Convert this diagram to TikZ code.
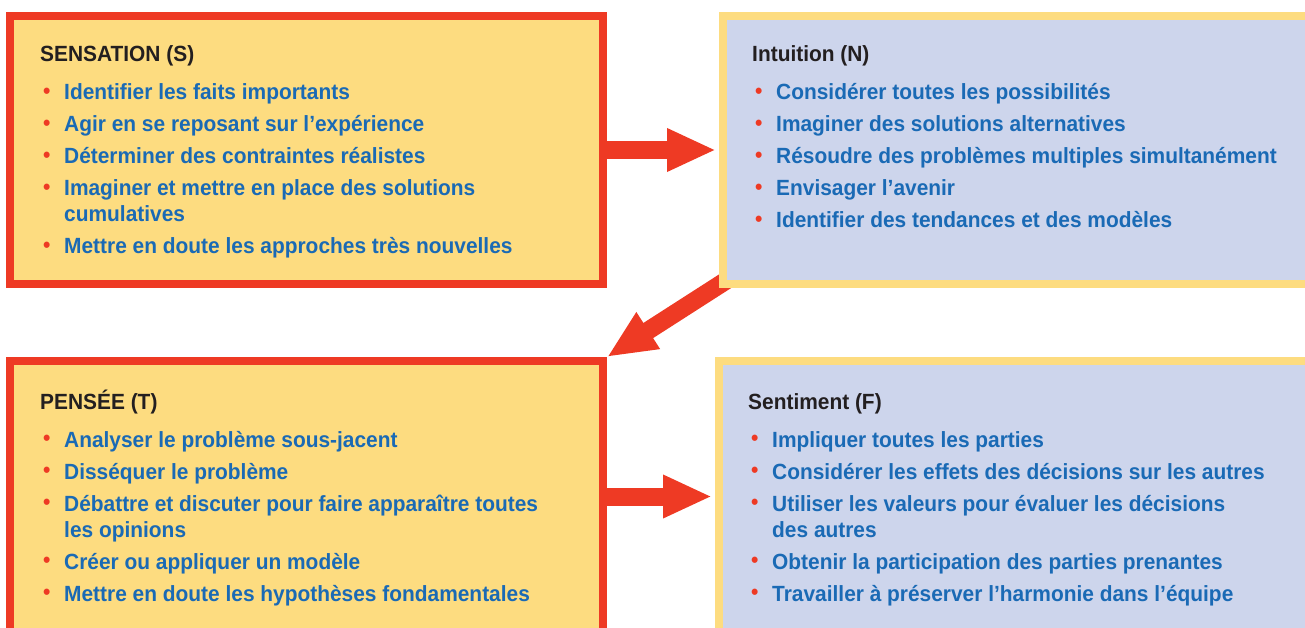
\documentclass[tikz,border=0pt]{standalone}
\usepackage{fontspec}
\setmainfont{Liberation Sans}[FakeStretch=0.95]
\usetikzlibrary{arrows.meta,backgrounds,calc}
\definecolor{rouge}{RGB}{238,58,36}
\definecolor{jaune}{RGB}{253,220,128}
\definecolor{lavande}{RGB}{205,213,236}
\definecolor{bleu}{RGB}{26,106,181}
\definecolor{noir}{RGB}{35,31,32}
\newcommand{\puce}{\makebox[24pt][l]{\hspace{3pt}\textcolor{rouge}{\raisebox{1.5pt}{\textbullet}}}}
\newcommand{\titre}[1]{\multicolumn{2}{@{}l@{}}{\textcolor{noir}{#1}}}
\begin{document}
\begin{tikzpicture}[x=1pt, y=-1pt,
   cadre/.style={rectangle, line width=8pt, minimum width=593pt, anchor=north west, inner sep=0pt},
   chaud/.style={cadre, draw=rouge, fill=jaune},
   froid/.style={cadre, draw=jaune, fill=lavande},
   liste/.style={anchor=base west, inner sep=0pt, text=bleu, font=\fontsize{22}{26}\selectfont\bfseries},
   fleche/.style={draw=rouge, line width=18pt, -{Triangle[length=49pt,width=40pt]}}]
   \useasboundingbox (0,0) rectangle (1305,628);
   \node (S) [chaud, minimum height=268pt] at (6,12) {};
   \node (N) [froid, minimum height=268pt] at (719,12) {};
   \node (T) [chaud, minimum height=271pt] at (6,357) {};
   \node (F) [froid, minimum height=271pt] at (715,357) {};
   \node (Sliste) [liste] at (40,62) {\begin{tabular}[t]{@{}l@{}l@{}}
     \titre{SENSATION (S)}\\[12pt]
     \puce & Identifier les faits importants\\[6pt]
     \puce & Agir en se reposant sur l’expérience\\[6pt]
     \puce & Déterminer des contraintes réalistes\\[6pt]
     \puce & Imaginer et mettre en place des solutions\\
           & cumulatives\\[6pt]
     \puce & Mettre en doute les approches très nouvelles
   \end{tabular}};
   \node (Nliste) [liste] at (752,62) {\begin{tabular}[t]{@{}l@{}l@{}}
     \titre{Intuition (N)}\\[12pt]
     \puce & Considérer toutes les possibilités\\[6pt]
     \puce & Imaginer des solutions alternatives\\[6pt]
     \puce & Résoudre des problèmes multiples simultanément\\[6pt]
     \puce & Envisager l’avenir\\[6pt]
     \puce & Identifier des tendances et des modèles
   \end{tabular}};
   \node (Tliste) [liste] at (40,409) {\begin{tabular}[t]{@{}l@{}l@{}}
     \titre{PENSÉE (T)}\\[12pt]
     \puce & Analyser le problème sous-jacent\\[6pt]
     \puce & Disséquer le problème\\[6pt]
     \puce & Débattre et discuter pour faire apparaître toutes\\
           & les opinions\\[6pt]
     \puce & Créer ou appliquer un modèle\\[6pt]
     \puce & Mettre en doute les hypothèses fondamentales
   \end{tabular}};
   \node (Fliste) [liste] at (748,409) {\begin{tabular}[t]{@{}l@{}l@{}}
     \titre{Sentiment (F)}\\[12pt]
     \puce & Impliquer toutes les parties\\[6pt]
     \puce & Considérer les effets des décisions sur les autres\\[6pt]
     \puce & Utiliser les valeurs pour évaluer les décisions\\
           & des autres\\[6pt]
     \puce & Obtenir la participation des parties prenantes\\[6pt]
     \puce & Travailler à préserver l’harmonie dans l’équipe
   \end{tabular}};
   \begin{scope}[on background layer]
     \fill[white] (0,0) rectangle (1305,628);
     \draw[fleche, shorten >=3pt] (S) -- (N);
     \draw[fleche, shorten >=3pt] (T) -- (F);
     \draw[fleche] ($(N.south west)+(8,-8)$) -- (T.north east);
   \end{scope}
\end{tikzpicture}
\end{document}
